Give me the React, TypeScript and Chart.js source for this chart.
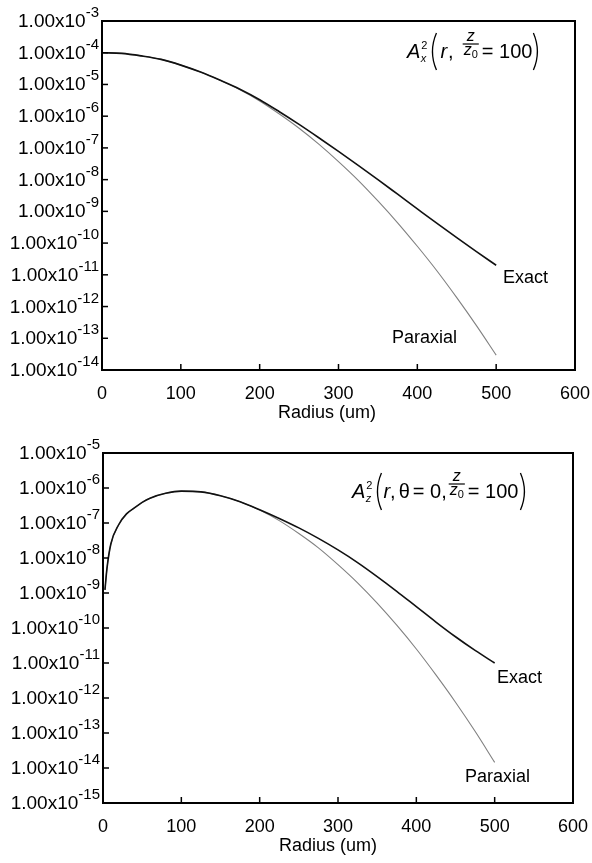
import React, { useEffect, useRef } from 'react';
import { Chart, registerables } from 'chart.js';

Chart.register(...registerables);

const FONT = "'Liberation Sans', Arial, Helvetica, sans-serif";

// ---------- data ----------
const topRadius = [0, 25, 50, 75, 100, 125, 150, 175, 200, 225, 250, 275, 300, 325, 350, 375, 400, 425, 450, 475, 500];
const topExact = [
  1.0e-4, 9.55e-5, 7.94e-5, 6.17e-5, 4.07e-5, 2.45e-5, 1.35e-5, 7.08e-6, 3.31e-6, 1.38e-6, 5.5e-7,
  2.09e-7, 7.76e-8, 2.82e-8, 1.0e-8, 3.47e-9, 1.2e-9, 4.17e-10, 1.48e-10, 5.37e-11, 2.0e-11,
];
const topParaxial = [
  1.0e-4, 9.55e-5, 7.94e-5, 6.17e-5, 4.07e-5, 2.45e-5, 1.35e-5, 6.76e-6, 3.02e-6, 1.17e-6, 4.17e-7,
  1.32e-7, 3.72e-8, 9.55e-9, 2.14e-9, 4.37e-10, 7.94e-11, 1.32e-11, 1.91e-12, 2.51e-13, 2.95e-14,
];

const bottomRadius = [2.5, 5, 10, 20, 30, 40, 50, 60, 80, 100, 125, 150, 175, 200, 225, 250, 275, 300, 325, 350, 375, 400, 425, 450, 475, 500];
const bottomExact = [
  1.23e-9, 4.9e-9, 2.51e-8, 8.91e-8, 1.82e-7, 2.69e-7, 3.89e-7, 5.13e-7, 7.08e-7, 8.13e-7, 7.76e-7, 6.03e-7, 4.07e-7,
  2.4e-7, 1.35e-7, 7.24e-8, 3.63e-8, 1.7e-8, 7.41e-9, 2.95e-9, 1.12e-9, 4.07e-10, 1.48e-10, 5.62e-11, 2.29e-11, 1.0e-11,
];
const bottomParaxial = [
  1.23e-9, 4.9e-9, 2.51e-8, 8.91e-8, 1.82e-7, 2.69e-7, 3.89e-7, 5.13e-7, 7.08e-7, 8.13e-7, 7.76e-7, 6.03e-7, 4.07e-7,
  2.34e-7, 1.17e-7, 5.01e-8, 1.95e-8, 6.46e-9, 1.95e-9, 5.13e-10, 1.2e-10, 2.51e-11, 4.57e-12, 7.59e-13, 1.12e-13, 1.45e-14,
];

const xTickValues = [0, 100, 200, 300, 400, 500, 600];
const topYExponents = [-3, -4, -5, -6, -7, -8, -9, -10, -11, -12, -13, -14];
const bottomYExponents = [-5, -6, -7, -8, -9, -10, -11, -12, -13, -14, -15];
const xTitle = 'Radius (um)';
const seriesNames = ['Exact', 'Paraxial'];

// ---------- formula helpers ----------
type Part =
  | { k: 'text'; s: string; italic?: boolean }
  | { k: 'supsub'; sup: string; sub: string }
  | { k: 'gap'; w: number }
  | { k: 'paren'; side: '(' | ')' }
  | { k: 'frac'; num: string; den: string; denSub: string };

function drawFormula(ctx: CanvasRenderingContext2D, x0: number, base: number, parts: Part[]) {
  let x = x0;
  ctx.save();
  ctx.fillStyle = '#000';
  ctx.strokeStyle = '#000';
  ctx.textAlign = 'left';
  ctx.textBaseline = 'alphabetic';
  for (const p of parts) {
    if (p.k === 'text') {
      ctx.font = `${p.italic ? 'italic ' : ''}20px ${FONT}`;
      ctx.fillText(p.s, x, base);
      x += ctx.measureText(p.s).width;
    } else if (p.k === 'supsub') {
      ctx.font = `11px ${FONT}`;
      ctx.fillText(p.sup, x + 1, base - 9);
      const w1 = ctx.measureText(p.sup).width;
      ctx.font = `italic 11px ${FONT}`;
      ctx.fillText(p.sub, x + 0.5, base + 4);
      const w2 = ctx.measureText(p.sub).width;
      x += Math.max(w1, w2) + 1;
    } else if (p.k === 'gap') {
      x += p.w;
    } else if (p.k === 'paren') {
      const top = base - 25;
      const bot = base + 12;
      ctx.lineWidth = 1.3;
      ctx.beginPath();
      if (p.side === '(') {
        ctx.moveTo(x + 6, top);
        ctx.quadraticCurveTo(x - 2, (top + bot) / 2, x + 6, bot);
      } else {
        ctx.moveTo(x + 1, top);
        ctx.quadraticCurveTo(x + 9, (top + bot) / 2, x + 1, bot);
      }
      ctx.stroke();
      x += 8;
    } else if (p.k === 'frac') {
      ctx.font = `italic 16px ${FONT}`;
      const wn = ctx.measureText(p.num).width;
      const wd = ctx.measureText(p.den).width;
      ctx.font = `11px ${FONT}`;
      const ws = ctx.measureText(p.denSub).width;
      const w = Math.max(wn, wd + ws) + 2;
      ctx.font = `italic 16px ${FONT}`;
      ctx.fillText(p.num, x + (w - wn) / 2, base - 17);
      ctx.fillText(p.den, x + (w - wd - ws) / 2, base - 3);
      ctx.font = `11px ${FONT}`;
      ctx.fillText(p.denSub, x + (w - wd - ws) / 2 + wd, base);
      ctx.lineWidth = 1.2;
      ctx.beginPath();
      ctx.moveTo(x, base - 14);
      ctx.lineTo(x + w, base - 14);
      ctx.stroke();
      x += w;
    }
  }
  ctx.restore();
}

interface Spec {
  radius: number[];
  exact: number[];
  paraxial: number[];
  yMin: number;
  yMax: number;
  yExps: number[];
  padding: { left: number; right: number; top: number; bottom: number };
  formula: { x: number; base: number; parts: Part[] };
  exactLabel: { x: number; y: number };
  paraxialLabel: { x: number; y: number };
}

function makeDecor(spec: Spec) {
  return {
    id: 'decor',
    afterDraw(chart: any) {
      const ctx: CanvasRenderingContext2D = chart.ctx;
      const ca = chart.chartArea;
      const xs = chart.scales.x;
      const ys = chart.scales.y;
      ctx.save();
      // frame
      ctx.strokeStyle = '#000';
      ctx.lineWidth = 2;
      ctx.strokeRect(ca.left, ca.top, ca.right - ca.left, ca.bottom - ca.top);
      // y ticks + labels
      ctx.lineWidth = 1.5;
      for (const e of spec.yExps) {
        const y = ys.getPixelForValue(Math.pow(10, e));
        if (e !== spec.yExps[0] && e !== spec.yExps[spec.yExps.length - 1]) {
          ctx.beginPath();
          ctx.moveTo(ca.left, y);
          ctx.lineTo(ca.left + 6, y);
          ctx.stroke();
        }
        const sup = String(e);
        ctx.fillStyle = '#000';
        ctx.textBaseline = 'alphabetic';
        ctx.font = `15px ${FONT}`;
        const sw = ctx.measureText(sup).width;
        const right = ca.left - 3;
        ctx.textAlign = 'left';
        ctx.fillText(sup, right - sw, y - 4);
        ctx.font = `19px ${FONT}`;
        ctx.textAlign = 'right';
        ctx.fillText('1.00x10', right - sw, y + 6);
      }
      // x ticks + labels
      ctx.font = `18px ${FONT}`;
      ctx.textAlign = 'center';
      for (const v of xTickValues) {
        const x = xs.getPixelForValue(v);
        if (v > 0 && v < 600) {
          ctx.beginPath();
          ctx.moveTo(x, ca.bottom);
          ctx.lineTo(x, ca.bottom - 6);
          ctx.stroke();
        }
        ctx.fillText(String(v), x, ca.bottom + 29);
      }
      // x title
      ctx.textAlign = 'left';
      ctx.fillText(xTitle, ca.left + 176, ca.bottom + 48);
      // series labels
      ctx.fillText(seriesNames[0], spec.exactLabel.x, spec.exactLabel.y);
      ctx.fillText(seriesNames[1], spec.paraxialLabel.x, spec.paraxialLabel.y);
      ctx.restore();
      drawFormula(ctx, spec.formula.x, spec.formula.base, spec.formula.parts);
    },
  };
}

function makeChart(canvas: HTMLCanvasElement, spec: Spec) {
  return new Chart(canvas, {
    type: 'line',
    data: {
      datasets: [
        {
          label: seriesNames[0],
          data: spec.radius.map((x, i) => ({ x, y: spec.exact[i] })),
          borderColor: '#111111',
          borderWidth: 1.6,
          pointRadius: 0,
          fill: false,
          cubicInterpolationMode: 'monotone',
        },
        {
          label: seriesNames[1],
          data: spec.radius.map((x, i) => ({ x, y: spec.paraxial[i] })),
          borderColor: '#808080',
          borderWidth: 1.1,
          pointRadius: 0,
          fill: false,
          cubicInterpolationMode: 'monotone',
        },
      ],
    },
    options: {
      responsive: false,
      maintainAspectRatio: false,
      animation: false,
      layout: { padding: spec.padding },
      plugins: { legend: { display: false }, tooltip: { enabled: false }, title: { display: false } },
      scales: {
        x: {
          type: 'linear',
          min: 0,
          max: 600,
          ticks: { display: false },
          grid: { display: false, drawTicks: false },
          border: { display: false },
        },
        y: {
          type: 'logarithmic',
          min: spec.yMin,
          max: spec.yMax,
          ticks: { display: false },
          grid: { display: false, drawTicks: false },
          border: { display: false },
        },
      },
    },
    plugins: [makeDecor(spec)],
  } as any);
}

const topSpec: Spec = {
  radius: topRadius,
  exact: topExact,
  paraxial: topParaxial,
  yMin: 1e-14,
  yMax: 1e-3,
  yExps: topYExponents,
  padding: { left: 102, right: 17, top: 21, bottom: 61 },
  formula: {
    x: 407,
    base: 58,
    parts: [
      { k: 'text', s: 'A', italic: true },
      { k: 'supsub', sup: '2', sub: 'x' },
      { k: 'gap', w: 3 },
      { k: 'paren', side: '(' },
      { k: 'gap', w: 2 },
      { k: 'text', s: 'r', italic: true },
      { k: 'gap', w: 1 },
      { k: 'text', s: ',' },
      { k: 'gap', w: 9 },
      { k: 'frac', num: 'z', den: 'z', denSub: '0' },
      { k: 'gap', w: 3 },
      { k: 'text', s: '= 100' },
      { k: 'paren', side: ')' },
    ],
  },
  exactLabel: { x: 503, y: 283 },
  paraxialLabel: { x: 392, y: 343 },
};

const bottomSpec: Spec = {
  radius: bottomRadius,
  exact: bottomExact,
  paraxial: bottomParaxial,
  yMin: 1e-15,
  yMax: 1e-5,
  yExps: bottomYExponents,
  padding: { left: 103, right: 19, top: 22, bottom: 60 },
  formula: {
    x: 352,
    base: 67,
    parts: [
      { k: 'text', s: 'A', italic: true },
      { k: 'supsub', sup: '2', sub: 'z' },
      { k: 'gap', w: 3 },
      { k: 'paren', side: '(' },
      { k: 'text', s: 'r', italic: true },
      { k: 'text', s: ',' },
      { k: 'gap', w: 3 },
      { k: 'text', s: 'θ' },
      { k: 'gap', w: 3 },
      { k: 'text', s: '= 0,' },
      { k: 'gap', w: 2 },
      { k: 'frac', num: 'z', den: 'z', denSub: '0' },
      { k: 'gap', w: 3 },
      { k: 'text', s: '= 100' },
      { k: 'gap', w: 1 },
      { k: 'paren', side: ')' },
    ],
  },
  exactLabel: { x: 497, y: 252 },
  paraxialLabel: { x: 465, y: 351 },
};

function Plot({ spec, top, height }: { spec: Spec; top: number; height: number }) {
  const ref = useRef<HTMLCanvasElement | null>(null);
  useEffect(() => {
    if (!ref.current) return;
    const chart = makeChart(ref.current, spec);
    return () => chart.destroy();
  }, [spec]);
  return (
    <canvas
      ref={ref}
      width={592}
      height={height}
      style={{ position: 'absolute', left: 0, top, width: 592, height, display: 'block' }}
    />
  );
}

export default function App() {
  return (
    <div style={{ position: 'fixed', left: 0, top: 0, width: 592, height: 863, background: '#fff', overflow: 'hidden' }}>
      <Plot spec={topSpec} top={0} height={431} />
      <Plot spec={bottomSpec} top={431} height={432} />
    </div>
  );
}
